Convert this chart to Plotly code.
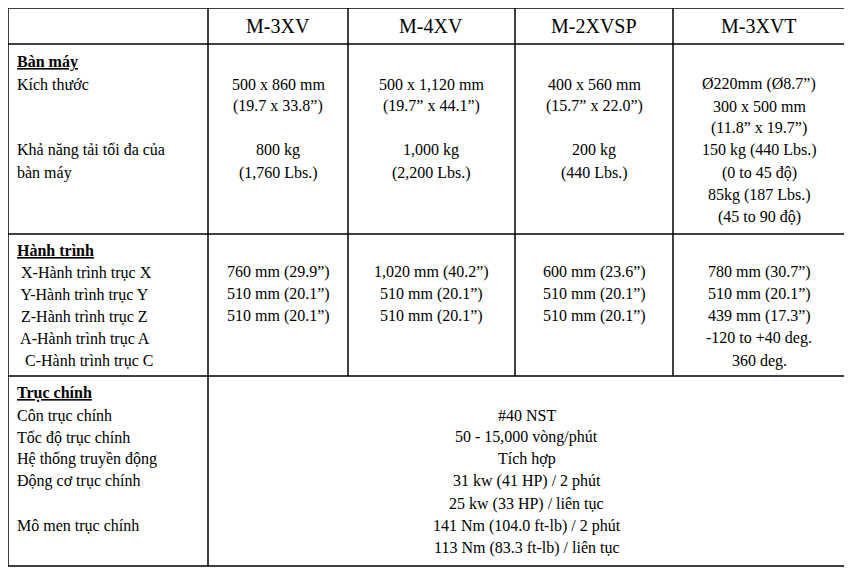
import plotly.graph_objects as go

FONT = "Liberation Serif, Times New Roman, serif"

models = ["M-3XV", "M-4XV", "M-2XVSP", "M-3XVT"]

# section 1: Bàn máy
sec1_labels = ["<b><u>Bàn máy</u></b>", "Kích thước", "", "", "Khả năng tải tối đa của", "bàn máy"]
sec1_m3xv = ["", "500 x 860 mm", "(19.7 x 33.8”)", "", "800 kg", "(1,760 Lbs.)"]
sec1_m4xv = ["", "500 x 1,120 mm", "(19.7” x 44.1”)", "", "1,000 kg", "(2,200 Lbs.)"]
sec1_m2xvsp = ["", "400 x 560 mm", "(15.7” x 22.0”)", "", "200 kg", "(440 Lbs.)"]
sec1_m3xvt = ["", "Ø220mm (Ø8.7”)", "300 x 500 mm", "(11.8” x 19.7”)", "150 kg (440 Lbs.)",
              "(0 to 45 độ)", "85kg (187 Lbs.)", "(45 to 90 độ)"]

# section 2: Hành trình
sec2_labels = ["<b><u>Hành trình</u></b>", " X-Hành trình trục X", " Y-Hành trình trục Y", " Z-Hành trình trục Z",
               " A-Hành trình trục A", "  C-Hành trình trục C"]
sec2_m3xv = ["", "760 mm (29.9”)", "510 mm (20.1”)", "510 mm (20.1”)"]
sec2_m4xv = ["", "1,020 mm (40.2”)", "510 mm (20.1”)", "510 mm (20.1”)"]
sec2_m2xvsp = ["", "600 mm (23.6”)", "510 mm (20.1”)", "510 mm (20.1”)"]
sec2_m3xvt = ["", "780 mm (30.7”)", "510 mm (20.1”)", "439 mm (17.3”)", "-120 to +40 deg.", "360 deg."]

# section 3: Trục chính (shared across models)
sec3_labels = ["<b><u>Trục chính</u></b>", "Côn trục chính", "Tốc độ trục chính", "Hệ thống truyền động",
               "Động cơ trục chính", "", "Mô men trục chính"]
sec3_shared = ["", "#40 NST", "50 - 15,000 vòng/phút", "Tích hợp", "31 kw (41 HP) / 2 phút",
               "25 kw (33 HP) / liên tục", "141 Nm (104.0 ft-lb) / 2 phút", "113 Nm (83.3 ft-lb) / liên tục"]

# geometry in pixel-like axis units
left, right, top, bottom = 8, 845, 8, 566
col_edges = [208, 348, 515, 673]
centers = [278, 431, 594, 759]
row_lines = [44, 234, 376]
step = 22.1
OFF = 8  # page body margin

fig = go.Figure()
ann = []


def put(lines, x, y0, anchor):
    for i, t in enumerate(lines):
        if t:
            ann.append(dict(x=x, y=y0 + i * step, text=t, showarrow=False, xanchor=anchor,
                            yanchor="middle", font=dict(family=FONT, size=16, color="black")))


for m, cx in zip(models, centers):
    ann.append(dict(x=cx, y=26, text=m, showarrow=False, yanchor="middle",
                    font=dict(family=FONT, size=20, color="black")))

put(sec1_labels, 15, 62, "left")
for col, cx in zip([sec1_m3xv, sec1_m4xv, sec1_m2xvsp, sec1_m3xvt], centers):
    put(col, cx, 62, "center")
put(sec2_labels, 15, 250, "left")
for col, cx in zip([sec2_m3xv, sec2_m4xv, sec2_m2xvsp, sec2_m3xvt], centers):
    put(col, cx, 250, "center")
put(sec3_labels, 15, 393, "left")
put(sec3_shared, (col_edges[0] + right) / 2, 393, "center")

shapes = [dict(type="rect", x0=left, x1=right, y0=top, y1=bottom, line=dict(color="black", width=1.5))]
for y in row_lines:
    shapes.append(dict(type="line", x0=left, x1=right, y0=y, y1=y, line=dict(color="black", width=1.5)))
shapes.append(dict(type="line", x0=col_edges[0], x1=col_edges[0], y0=top, y1=bottom,
                   line=dict(color="black", width=1.5)))
for x in col_edges[1:]:
    shapes.append(dict(type="line", x0=x, x1=x, y0=top, y1=row_lines[2], line=dict(color="black", width=1.5)))

fig.update_layout(
    width=852, height=571, margin=dict(l=0, r=0, t=0, b=0),
    paper_bgcolor="white", plot_bgcolor="white",
    xaxis=dict(range=[OFF, 852 + OFF], visible=False, fixedrange=True),
    yaxis=dict(range=[571 + OFF, OFF], visible=False, fixedrange=True),
    annotations=ann, shapes=shapes, showlegend=False,
)
fig.write_html("out.html")
